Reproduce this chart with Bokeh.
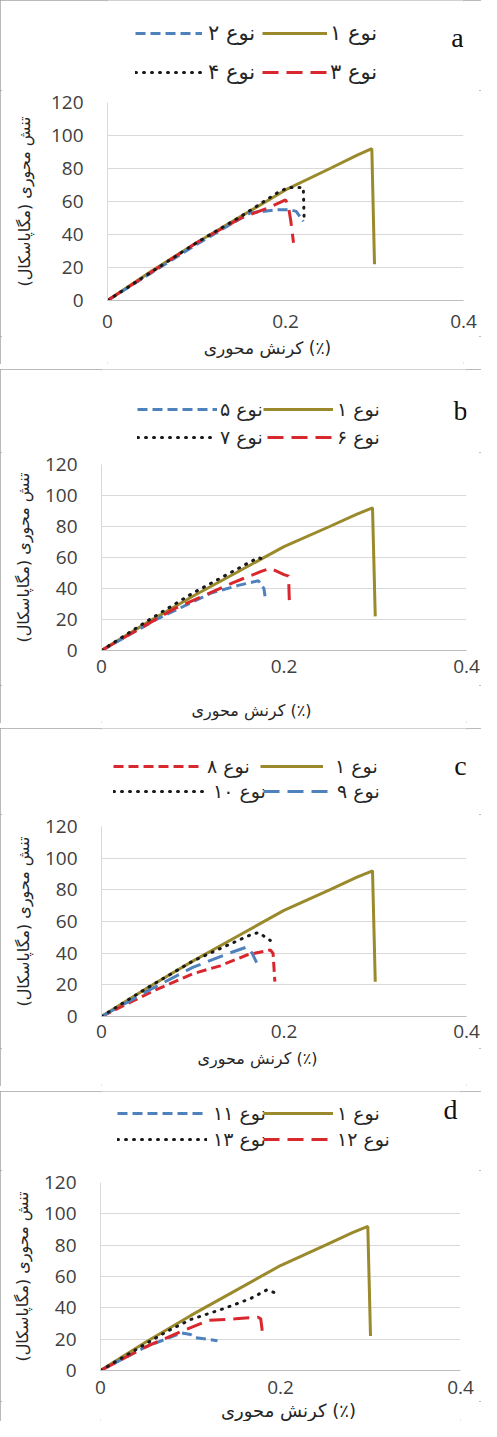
from bokeh.plotting import figure
from bokeh.models import Legend, LegendItem, Label, FixedTicker
from bokeh.layouts import column
from bokeh.embed import file_html
from bokeh.resources import INLINE

# ---------------- data (strain %, stress MPa) ----------------
strain_t1 = [0, 0.05, 0.10, 0.15, 0.20, 0.25, 0.28, 0.297, 0.300]
stress_t1 = [0, 18, 35, 51, 67, 80, 88, 92, 22]

strain_t2 = [0, 0.10, 0.16, 0.19, 0.205, 0.212, 0.216, 0.220]
stress_t2 = [0, 34, 53, 55, 55, 54, 51, 48]
strain_t3 = [0, 0.10, 0.15, 0.18, 0.200, 0.203, 0.206, 0.209]
stress_t3 = [0, 35, 50, 56, 61, 58, 48, 35]
strain_t4 = [0, 0.10, 0.15, 0.19, 0.203, 0.220, 0.221]
stress_t4 = [0, 35, 51, 65, 68.5, 68.5, 48]

strain_t5 = [0, 0.06, 0.12, 0.15, 0.172, 0.178, 0.180]
stress_t5 = [0, 20, 37, 42, 45, 40, 32]
strain_t6 = [0, 0.08, 0.145, 0.175, 0.185, 0.200, 0.205, 0.206]
stress_t6 = [0, 27, 44, 51, 53, 49, 48, 29]
strain_t7 = [0, 0.05, 0.10, 0.15, 0.172, 0.180]
stress_t7 = [0, 19, 37, 53, 60, 58]

strain_t8 = [0, 0.06, 0.10, 0.13, 0.16, 0.185, 0.188, 0.190]
stress_t8 = [0, 17, 27, 32, 39, 42, 40, 22]
strain_t9 = [0, 0.05, 0.10, 0.14, 0.160, 0.165, 0.170]
stress_t9 = [0, 16, 31, 40, 44, 40, 34]
strain_t10 = [0, 0.05, 0.10, 0.14, 0.165, 0.172, 0.180, 0.185]
stress_t10 = [0, 18, 35, 45.5, 52, 53, 50, 48]

strain_t11 = [0, 0.05, 0.09, 0.10, 0.105, 0.13]
stress_t11 = [0, 15, 24, 23, 21, 19]
strain_t12 = [0, 0.05, 0.09, 0.12, 0.15, 0.175, 0.178, 0.180]
stress_t12 = [0, 15, 25, 32, 33, 34, 33, 24]
strain_t13 = [0, 0.074, 0.10, 0.137, 0.167, 0.185, 0.192, 0.198]
stress_t13 = [0, 25, 32.5, 39.5, 46, 51.5, 50, 48.6]

type_names = ["نوع ۱", "نوع ۲", "نوع ۳", "نوع ۴", "نوع ۵", "نوع ۶", "نوع ۷",
              "نوع ۸", "نوع ۹", "نوع ۱۰", "نوع ۱۱", "نوع ۱۲", "نوع ۱۳"]
panel_letters = ["a", "b", "c", "d"]
x_ticks = [0, 0.2, 0.4]
y_ticks = [0, 20, 40, 60, 80, 100, 120]
x_title = "کرنش محوری (٪)"
y_title = "تنش محوری (مگاپاسکال)\u200f"

# ---------------- styles ----------------
OLIVE = "#9A8A2C"
BLUE = "#4F81BD"
RED = "#D9272E"
BLACK = "#1A1A1A"
SOLID = dict(line_color=OLIVE, line_width=3)
SDASH_B = dict(line_color=BLUE, line_width=3, line_dash="10 5")
SDASH_R = dict(line_color=RED, line_width=3, line_dash="10 5")
LDASH_R = dict(line_color=RED, line_width=3, line_dash="16 8")
LDASH_B = dict(line_color=BLUE, line_width=3, line_dash="16 8")
DOT = dict(line_color=BLACK, line_width=3, line_dash="1 7", line_cap="round")

AR_FONT = "DejaVu Sans"
W = 481

# legend entries: (series index, glyph left, glyph right, label standoff)
panels = [
    dict(letter=0, names=[0, 1, 2, 3],
         series=[(strain_t1, stress_t1, SOLID), (strain_t2, stress_t2, SDASH_B),
                 (strain_t3, stress_t3, LDASH_R), (strain_t4, stress_t4, DOT)],
         head=90, frame=198, mbot=36, foot=28, left=107, right=18,
         rows_y=[33, 72], leg_fs="21px",
         rows=[[(1, 135, 202, 6), (0, 262, 327, 3)], [(3, 135, 203, 5), (2, 262, 327, 3)]],
         let_x=457, let_y=37,
         title_x=267, title_y=11, title_fs="17px", tick_sd=14, ylab_sd=14),
    dict(letter=1, names=[0, 4, 5, 6],
         series=[(strain_t1, stress_t1, SOLID), (strain_t5, stress_t5, SDASH_B),
                 (strain_t6, stress_t6, LDASH_R), (strain_t7, stress_t7, DOT)],
         head=83, frame=186, mbot=35, foot=38, left=101, right=15,
         rows_y=[40, 68], leg_fs="19px",
         rows=[[(1, 137, 217, 3), (0, 263, 333, 4)], [(3, 137, 217, 3), (2, 267, 333, 4)]],
         let_x=460, let_y=41,
         title_x=251, title_y=25, title_fs="16px", tick_sd=9, ylab_sd=9),
    dict(letter=2, names=[0, 7, 8, 9],
         series=[(strain_t1, stress_t1, SOLID), (strain_t8, stress_t8, SDASH_R),
                 (strain_t9, stress_t9, LDASH_B), (strain_t10, stress_t10, DOT)],
         head=86, frame=190, mbot=32, foot=38, left=101, right=15,
         rows_y=[38, 63], leg_fs="19px",
         rows=[[(1, 113, 200, 7), (0, 260, 323, 12)], [(3, 113, 207, 6), (2, 263, 333, 4)]],
         let_x=460, let_y=37,
         title_x=257, title_y=10, title_fs="16px", tick_sd=8, ylab_sd=9),
    dict(letter=3, names=[0, 10, 11, 12],
         series=[(strain_t1, stress_t1, SOLID), (strain_t11, stress_t11, SDASH_B),
                 (strain_t12, stress_t12, LDASH_R), (strain_t13, stress_t13, DOT)],
         head=79, frame=188, mbot=31, foot=20, left=100, right=21,
         rows_y=[22, 48], leg_fs="19px",
         rows=[[(1, 117, 207, 6), (0, 263, 333, 4)], [(3, 117, 207, 6), (2, 263, 333, 4)]],
         let_x=450, let_y=18,
         title_x=288, title_y=9, title_fs="18px", tick_sd=10, ylab_sd=9),
]


def blank(h, left, right):
    # pixel-unit canvas whose frame lines up with the main plot's frame
    f = figure(width=W, height=h, x_range=(left, W - right), y_range=(0, h),
               output_backend="svg", toolbar_location=None,
               x_axis_location=None, y_axis_location=None,
               min_border=0, min_border_left=left, min_border_right=right,
               min_border_top=0, min_border_bottom=0)
    f.grid.visible = False
    f.outline_line_color = None
    f.background_fill_color = "white"
    f.border_fill_color = "white"
    return f


panel_layouts = []
for cfg in panels:
    L, R = cfg["left"], cfg["right"]
    # ---- header: legend rows + panel letter ----
    hd = blank(cfg["head"], L, R)
    proxies = [hd.line(xs, ys, visible=False, **st) for (xs, ys, st) in cfg["series"]]
    names = cfg["names"]
    for ri, row in enumerate(cfg["rows"]):
        for (k, g0, g1, sd) in row:
            lg = Legend(items=[LegendItem(label=type_names[names[k]], renderers=[proxies[k]])],
                        location=(g0 - L, cfg["head"] - cfg["rows_y"][ri] - 12),
                        orientation="horizontal", glyph_width=g1 - g0, glyph_height=24,
                        label_standoff=sd, spacing=0, padding=0, margin=0,
                        border_line_alpha=0, background_fill_alpha=0,
                        inactive_fill_alpha=0,
                        label_text_font=AR_FONT, label_text_font_size=cfg["leg_fs"],
                        label_text_color="#262626", label_height=24)
            hd.add_layout(lg, "center")
    hd.add_layout(Label(x=cfg["let_x"], y=cfg["head"] - cfg["let_y"],
                        text=panel_letters[cfg["letter"]], text_align="center",
                        text_baseline="middle", text_font="Liberation Serif",
                        text_font_size="28px", text_color="#111111"))

    # ---- main plot ----
    p = figure(width=W, height=12 + cfg["frame"] + cfg["mbot"],
               x_range=(0, 0.4), y_range=(0, 120),
               output_backend="svg", toolbar_location=None,
               min_border_top=12, min_border_bottom=cfg["mbot"],
               min_border_left=L, min_border_right=R)
    p.outline_line_color = None
    p.background_fill_color = "white"
    p.border_fill_color = "white"
    p.xgrid.grid_line_color = None
    p.ygrid.grid_line_color = "#D9D9D9"
    p.ygrid.grid_line_width = 1
    p.xaxis.ticker = FixedTicker(ticks=x_ticks)
    p.yaxis.ticker = FixedTicker(ticks=y_ticks)
    p.xaxis.major_label_overrides = {0: "0"}
    for ax in (p.xaxis, p.yaxis):
        ax.major_tick_line_color = None
        ax.minor_tick_line_color = None
        ax.major_tick_out = 0
        ax.major_tick_in = 0
        ax.minor_tick_out = 0
        ax.major_label_text_font = "Open Sans"
        ax.major_label_text_font_size = "19px"
        ax.major_label_text_color = "#404040"
    p.xaxis.axis_line_color = "#BFBFBF"
    p.yaxis.axis_line_color = "#D9D9D9"
    p.yaxis.major_label_standoff = 24
    p.xaxis.major_label_standoff = cfg["tick_sd"]
    p.yaxis.axis_label = y_title
    p.yaxis.axis_label_text_font = AR_FONT
    p.yaxis.axis_label_text_font_size = "16px"
    p.yaxis.axis_label_text_font_style = "normal"
    p.yaxis.axis_label_text_color = "#262626"
    p.yaxis.axis_label_standoff = cfg["ylab_sd"]
    for xs, ys, st in cfg["series"]:
        p.line(xs, ys, **st)

    # ---- footer: x-axis title ----
    ft = blank(cfg["foot"], L, R)
    ft.add_layout(Label(x=cfg["title_x"], y=cfg["foot"] - cfg["title_y"],
                        text=x_title, text_align="center", text_baseline="middle",
                        text_font=AR_FONT, text_font_size=cfg["title_fs"],
                        text_color="#262626"))

    panel_layouts.append(column(hd, p, ft, spacing=0,
                                styles={"outline": "2px solid #A3A3A3",
                                        "outline-offset": "-2px"}))

layout = column(*panel_layouts, spacing=5)
open("out.html", "w").write(file_html(layout, INLINE))
